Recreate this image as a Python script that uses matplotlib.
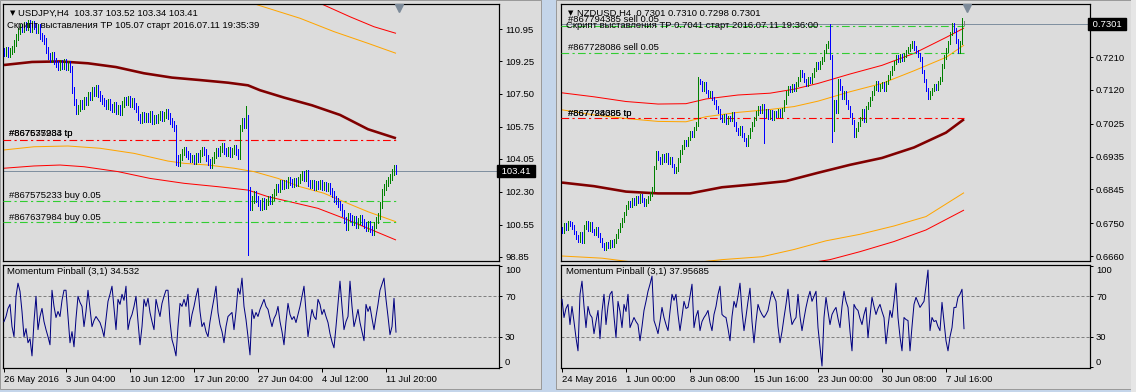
import numpy as np
import matplotlib
matplotlib.use("Agg")
import matplotlib.pyplot as plt
from matplotlib.patches import Rectangle

W, H = 1136, 392
DPI = 100
PX = 72.0 / DPI

plt.rcParams['font.family'] = ['Liberation Sans', 'DejaVu Sans']
FS = 6.8

# ---------------- USDJPY H4 ----------------
usd_first_open = 109.78
usd_close = [
    109.70, 109.82, 109.65, 109.78, 109.90, 110.20, 110.55, 110.85, 111.05, 110.95,
    111.15, 111.05, 111.25, 110.95, 111.20, 111.10, 110.90, 111.05, 110.60, 110.45,
    110.30, 109.85, 109.50, 109.35, 109.55, 109.25, 109.10, 108.95, 109.15, 109.00,
    109.20, 108.95, 109.10, 108.85, 107.70, 107.05, 106.60, 106.75, 107.00, 106.85,
    107.20, 107.10, 107.45, 107.35, 107.70, 107.55, 107.80, 107.50, 107.30, 107.15,
    107.00, 106.85, 107.05, 106.80, 106.70, 106.90, 106.60, 106.75, 106.55, 106.95,
    107.20, 107.05, 107.25, 106.95, 107.15, 106.85, 106.70, 106.30, 106.10, 106.40,
    106.15, 106.35, 106.20, 106.45, 106.05, 106.25, 106.10, 106.30, 106.45, 106.25,
    106.40, 106.55, 106.35, 106.05, 105.90, 105.70, 104.10, 103.85, 104.15, 104.40,
    104.55, 104.30, 104.20, 104.05, 104.10, 103.95, 104.20, 104.05, 104.35, 104.55,
    104.40, 104.10, 103.90, 103.75, 104.00, 104.25, 104.45, 104.35, 104.60, 104.75,
    104.50, 104.35, 104.55, 104.30, 104.45, 104.65, 104.40, 104.20, 105.70, 106.05,
    105.85, 106.25, 102.40, 101.50, 101.90, 102.20, 101.95, 101.70, 101.50, 101.80,
    101.55, 101.75, 101.95, 101.80, 102.05, 102.30, 102.55, 102.45, 102.75, 102.60,
    102.80, 102.65, 102.95, 102.85, 102.70, 102.90, 102.80, 102.95, 103.10, 103.25,
    103.05, 103.30, 102.80, 102.65, 102.75, 102.55, 102.70, 102.60, 102.75, 102.55,
    102.65, 102.50, 102.60, 102.35, 102.20, 101.95, 101.80, 101.65, 101.50, 101.20,
    100.80, 100.45, 101.05, 100.90, 100.70, 100.85, 100.55, 100.75, 100.90, 100.70,
    100.55, 100.40, 100.60, 100.35, 100.20, 100.55, 100.80, 101.05, 101.60, 102.30,
    102.55, 102.80, 102.95, 103.10, 103.35, 103.55, 103.41,
]
usd_hi_idx = [121, 86]
usd_hi_val = [106.86, 105.85]
usd_lo_idx = [122, 86]
usd_lo_val = [98.95, 103.73]

usd_ma_idx = [0, 14, 28, 42, 56, 70, 84, 98, 112, 122, 128, 140, 154, 168, 182, 196]
usd_ma_val = [109.04, 109.20, 109.23, 109.13, 108.93, 108.60, 108.37, 108.24, 108.10,
              107.96, 107.70, 107.31, 106.90, 106.39, 105.63, 105.15]
usd_lo_or_idx = [0, 15, 32, 48, 65, 82, 90, 102, 115, 125, 137, 148, 160, 170, 182, 196]
usd_lo_or_val = [104.53, 104.70, 104.74, 104.62, 104.35, 103.94, 103.82, 103.73, 103.56,
                 103.38, 103.02, 102.58, 102.23, 101.78, 101.25, 100.72]
usd_lo_rd_idx = [0, 15, 28, 40, 57, 73, 90, 107, 122, 132, 143, 157, 170, 182, 196]
usd_lo_rd_val = [103.56, 103.68, 103.73, 103.64, 103.38, 103.02, 102.76, 102.58, 102.40,
                 102.05, 101.78, 101.43, 100.90, 100.37, 99.75]
usd_up_or_idx = [110, 127, 148, 165, 182, 196]
usd_up_or_val = [112.90, 112.22, 111.52, 110.81, 110.19, 109.66]
usd_up_rd_idx = [145, 160, 173, 185, 196]
usd_up_rd_val = [112.90, 112.22, 111.60, 111.07, 110.72]

usd_tp = 105.07
usd_buy1 = 101.80
usd_buy2 = 100.72
usd_bid = 103.41
usd_yticks = [110.95, 109.25, 107.50, 105.75, 104.05, 102.30, 100.55, 98.85]

usd_mom = [
    45, 50, 58, 62, 40, 30, 70, 83, 75, 55,
    30, 38, 24, 28, 11, 45, 70, 37, 50, 58,
    45, 37, 30, 22, 76, 60, 49, 55, 50, 66,
    76, 76, 50, 24, 35, 20, 48, 70, 64, 60,
    40, 55, 76, 58, 40, 46, 50, 47, 44, 38,
    30, 48, 65, 72, 80, 58, 37, 67, 62, 72,
    66, 80, 37, 47, 52, 60, 70, 45, 22, 40,
    67, 60, 68, 54, 45, 37, 67, 58, 50, 63,
    70, 76, 76, 45, 27, 20, 11, 40, 63, 60,
    67, 60, 72, 40, 52, 60, 70, 78, 55, 40,
    44, 35, 30, 45, 57, 68, 80, 54, 42, 35,
    24, 40, 50, 52, 54, 37, 55, 78, 72, 88,
    60, 47, 30, 12, 57, 48, 54, 50, 57, 62,
    67, 60, 57, 48, 40, 48, 52, 60, 45, 35,
    22, 45, 63, 52, 47, 50, 44, 52, 60, 70,
    80, 55, 30, 45, 57, 50, 47, 67, 62, 52,
    57, 50, 44, 33, 25, 19, 40, 63, 85, 60,
    37, 45, 50, 85, 60, 40, 48, 57, 44, 35,
    26, 62, 55, 60, 48, 37, 50, 62, 76, 82,
    88, 67, 50, 32, 40, 68, 34.532,
]
usd_time_idx = [0, 31, 63, 95, 127, 159, 191]
usd_time_lbl = ["26 May 2016", "3 Jun 04:00", "10 Jun 12:00", "17 Jun 20:00",
                "27 Jun 04:00", "4 Jul 12:00", "11 Jul 20:00"]

# ---------------- NZDUSD H4 ----------------
nzd_first_open = 0.6735
nzd_close = [
    0.6728, 0.6745, 0.6738, 0.6752, 0.6748, 0.6740, 0.6725, 0.6712, 0.6705, 0.6720,
    0.6702, 0.6740, 0.6752, 0.6735, 0.6748, 0.6730, 0.6722, 0.6735, 0.6718, 0.6705,
    0.6690, 0.6682, 0.6695, 0.6688, 0.6698, 0.6690, 0.6702, 0.6715, 0.6730, 0.6745,
    0.6760, 0.6778, 0.6795, 0.6808, 0.6800, 0.6815, 0.6805, 0.6822, 0.6812, 0.6825,
    0.6815, 0.6802, 0.6812, 0.6820, 0.6832, 0.6845, 0.6905, 0.6945, 0.6930, 0.6920,
    0.6938, 0.6925, 0.6940, 0.6918, 0.6930, 0.6910, 0.6895, 0.6900, 0.6925, 0.6948,
    0.6962, 0.6975, 0.6968, 0.6985, 0.7000, 0.6995, 0.7012, 0.7025, 0.7145, 0.7140,
    0.7120, 0.7135, 0.7115, 0.7105, 0.7112, 0.7095, 0.7085, 0.7070, 0.7060, 0.7045,
    0.7035, 0.7048, 0.7030, 0.7042, 0.7038, 0.7052, 0.7025, 0.7010, 0.7000, 0.7015,
    0.6995, 0.6982, 0.6970, 0.6990, 0.7010, 0.7025, 0.7040, 0.7055, 0.7070, 0.7060,
    0.7075, 0.7050, 0.7060, 0.7045, 0.7058, 0.7040, 0.7055, 0.7048, 0.7060, 0.7050,
    0.7065, 0.7085, 0.7110, 0.7125, 0.7118, 0.7130, 0.7122, 0.7135, 0.7150, 0.7170,
    0.7160, 0.7145, 0.7135, 0.7150, 0.7142, 0.7160, 0.7175, 0.7190, 0.7182, 0.7195,
    0.7205, 0.7225, 0.7240, 0.7250, 0.7210, 0.7010, 0.7085, 0.7060, 0.7145, 0.7125,
    0.7100, 0.7110, 0.7085, 0.7070, 0.7050, 0.7030, 0.6995, 0.7010, 0.7025, 0.7040,
    0.7060, 0.7035, 0.7070, 0.7080, 0.7095, 0.7110, 0.7125, 0.7140, 0.7120, 0.7130,
    0.7135, 0.7120, 0.7140, 0.7155, 0.7165, 0.7180, 0.7195, 0.7210, 0.7200, 0.7212,
    0.7205, 0.7215, 0.7225, 0.7232, 0.7240, 0.7248, 0.7235, 0.7225, 0.7215, 0.7205,
    0.7170, 0.7145, 0.7120, 0.7100, 0.7110, 0.7120, 0.7130, 0.7125, 0.7140, 0.7150,
    0.7185, 0.7210, 0.7230, 0.7250, 0.7275, 0.7300, 0.7285, 0.7255, 0.7225, 0.7250,
    0.7301, 0.7301,
]
nzd_hi_idx = [134, 68, 200, 201]
nzd_hi_val = [0.7301, 0.7155, 0.7318, 0.7310]
nzd_lo_idx = [135, 101, 201]
nzd_lo_val = [0.6976, 0.6972, 0.7298]

nzd_ma_idx = [0, 16, 32, 48, 64, 80, 96, 112, 128, 144, 160, 176, 192, 201]
nzd_ma_val = [0.6863, 0.6853, 0.6838, 0.6833, 0.6833, 0.6850, 0.6858, 0.6867, 0.6890,
              0.6912, 0.6931, 0.6960, 0.7001, 0.7038]
nzd_up_rd_idx = [0, 16, 32, 48, 62, 72, 88, 104, 116, 128, 144, 160, 176, 192, 201]
nzd_up_rd_val = [0.7111, 0.7100, 0.7087, 0.7080, 0.7081, 0.7094, 0.7105, 0.7110, 0.7121,
                 0.7137, 0.7163, 0.7187, 0.7220, 0.7264, 0.7290]
nzd_up_or_idx = [0, 16, 32, 48, 62, 72, 88, 104, 116, 128, 144, 160, 176, 192, 201]
nzd_up_or_val = [0.7064, 0.7050, 0.7040, 0.7032, 0.7031, 0.7045, 0.7057, 0.7065, 0.7073,
                 0.7088, 0.7114, 0.7137, 0.7172, 0.7209, 0.7243]
nzd_lo_or_idx = [0, 20, 40, 60, 80, 100, 116, 132, 149, 166, 182, 201]
nzd_lo_or_val = [0.6660, 0.6654, 0.6640, 0.6638, 0.6650, 0.6658, 0.6678, 0.6702, 0.6720,
                 0.6743, 0.6769, 0.6835]
nzd_lo_rd_idx = [100, 134, 149, 166, 182, 201]
nzd_lo_rd_val = [0.6620, 0.6650, 0.6672, 0.6700, 0.6732, 0.6787]

nzd_tp = 0.7041
nzd_sell1 = 0.7297
nzd_sell2 = 0.7222
nzd_bid = 0.7301
nzd_yticks = [0.7210, 0.7120, 0.7025, 0.6935, 0.6845, 0.6750, 0.6660]

nzd_mom = [
    67, 49, 58, 62, 42, 60, 45, 29, 16, 72,
    85, 60, 39, 60, 52, 49, 33, 45, 56, 28,
    55, 72, 42, 60, 72, 75, 50, 29, 65, 55,
    39, 62, 55, 72, 39, 44, 49, 45, 42, 26,
    40, 56, 65, 75, 82, 90, 46, 40, 33, 45,
    59, 49, 42, 36, 55, 72, 66, 72, 52, 36,
    50, 65, 58, 59, 70, 82, 39, 50, 56, 36,
    45, 49, 52, 56, 44, 36, 52, 60, 72, 80,
    52, 50, 49, 38, 26, 50, 65, 59, 70, 83,
    55, 36, 50, 65, 78, 45, 24, 45, 62, 56,
    52, 49, 52, 56, 66, 75, 70, 65, 40, 24,
    35, 49, 62, 77, 55, 42, 46, 49, 72, 50,
    36, 48, 59, 68, 75, 65, 70, 75, 39, 20,
    1, 49, 69, 55, 42, 52, 56, 59, 48, 39,
    60, 75, 65, 59, 35, 16, 62, 58, 56, 48,
    42, 52, 59, 29, 50, 69, 60, 52, 58, 62,
    55, 49, 23, 40, 56, 49, 65, 83, 49, 30,
    16, 49, 47, 46, 16, 40, 62, 69, 64, 59,
    62, 65, 80, 96, 36, 49, 45, 46, 40, 36,
    64, 45, 26, 16, 30, 39, 59, 59, 69, 72,
    77, 37.95685,
]
nzd_time_idx = [0, 32, 64, 96, 128, 160, 192]
nzd_time_lbl = ["24 May 2016", "1 Jun 00:00", "8 Jun 08:00", "15 Jun 16:00",
                "23 Jun 00:00", "30 Jun 08:00", "7 Jul 16:00"]

# ---------------- colours ----------------
BG = '#DCDCDC'
UP = '#008000'
DN = '#0000FF'
MAROON = '#800000'
ORANGE = '#FFA500'
RED = '#FF0000'
LIME = '#32CD32'
BIDLINE = '#8090A0'
NAVY = '#000080'

fig = plt.figure(figsize=(W / DPI, H / DPI), dpi=DPI)
fig.patch.set_facecolor('#C4D5EA')


def frect(x0, y0, x1, y1, fc, ec='none', lw=0):
    r = Rectangle((x0 / W, 1 - y1 / H), (x1 - x0) / W, (y1 - y0) / H,
                  transform=fig.transFigure, facecolor=fc, edgecolor=ec,
                  linewidth=lw, zorder=-10)
    fig.add_artist(r)


frect(0, 0, 541, 389, BG, '#9A9A9A', 1 * PX)
frect(556, 0, 1131, 389, BG, '#9A9A9A', 1 * PX)
frect(1131, 0, 1136, 392, '#E6E6E6')


def add_ax(x0, y0, x1, y1):
    ax = fig.add_axes([x0 / W, 1 - y1 / H, (x1 - x0) / W, (y1 - y0) / H])
    ax.set_zorder(1)
    ax.set_facecolor(BG)
    for s in ax.spines.values():
        s.set_color('black')
        s.set_linewidth(1.2 * PX)
    return ax


def ftext(x, y, s, **kw):
    kw.setdefault('fontsize', FS)
    kw.setdefault('color', 'black')
    t = fig.text(x / W, 1 - y / H, s, ha=kw.pop('ha', 'left'), va=kw.pop('va', 'center'), **kw)
    t.set_zorder(20)


def draw_chart(x0, x1, closes, first_open, wick, hi_idx, hi_val, lo_idx, lo_val,
               lines, levels, bid, bid_fmt, yticks, ylim, mom, time_idx, time_lbl):
    n = len(closes)
    nbar_view = (x1 - x0) / 2.0
    xlim = (-0.5, -0.5 + nbar_view)
    ax = add_ax(x0, 4, x1, 261)
    ax.set_xlim(*xlim)
    ax.set_ylim(*ylim)
    c = np.array(closes, dtype=float)
    o = np.concatenate([[first_open], c[:-1]])
    hi = np.maximum(o, c) + wick
    lo = np.minimum(o, c) - wick
    for i, v in zip(hi_idx, hi_val):
        hi[i] = v
    for i, v in zip(lo_idx, lo_val):
        lo[i] = v
    cols = [UP if cc > oo else (DN if cc < oo else '#808080') for oo, cc in zip(o, c)]
    x = np.arange(n)
    ax.axhline(bid, color=BIDLINE, lw=1 * PX, zorder=1)
    for idx, val, col, lw in lines:
        ax.plot(idx, val, color=col, lw=lw * PX, solid_capstyle='butt', zorder=2)
    for val, col in levels:
        ax.plot([xlim[0], n - 1], [val, val], color=col, lw=1.1 * PX,
                ls=(0, (7, 3, 2, 3)), zorder=3)
    ax.vlines(x, lo, hi, colors=cols, linewidth=1.0 * PX, antialiased=False, zorder=4)
    ax.set_xticks([])
    ax.yaxis.tick_right()
    ax.set_yticks(yticks)
    ax.set_yticklabels([bid_fmt.format(t) for t in yticks])
    ax.tick_params(axis='y', direction='out', length=3 * PX, width=1 * PX, pad=2.2,
                   labelsize=FS, colors='black')
    ax.text(1.0, bid, ' ' + bid_fmt.format(bid) + ' ', transform=ax.get_yaxis_transform(),
            ha='left', va='center', fontsize=FS, color='white', zorder=10, clip_on=False,
            bbox=dict(boxstyle='square,pad=0.18', fc='black', ec='black'))
    ax.plot([n + 0.5], [0.985], transform=ax.get_xaxis_transform(), marker='v', ms=5.5,
            color='#7C8A99', mec='#7C8A99', clip_on=False, zorder=6)

    ai = add_ax(x0, 265, x1, 368)
    ai.set_xlim(*xlim)
    ai.set_ylim(-1, 101)
    for lvl in (70, 30):
        ai.axhline(lvl, color='#808080', lw=1 * PX, ls=(0, (3, 2)), zorder=1)
    ai.plot(np.arange(len(mom)), mom, color=NAVY, lw=1.0 * PX, zorder=3)
    ai.yaxis.tick_right()
    ai.set_yticks([0, 30, 70, 100])
    ai.set_yticklabels(['0', '30', '70', '100'])
    ai.tick_params(axis='y', direction='out', length=3 * PX, width=1 * PX, pad=2.2,
                   labelsize=FS, colors='black')
    for lbl in ai.get_yticklabels():
        if lbl.get_text() == '0':
            lbl.set_va('bottom')
        elif lbl.get_text() == '100':
            lbl.set_va('top')
    ai.set_xticks(time_idx)
    ai.set_xticklabels(time_lbl, ha='left')
    ai.tick_params(axis='x', direction='out', length=4 * PX, width=1 * PX, pad=2.5,
                   labelsize=FS, colors='black')
    return ax, ai


usd_lines = [
    (usd_ma_idx, usd_ma_val, MAROON, 2.6),
    (usd_lo_or_idx, usd_lo_or_val, ORANGE, 1.0),
    (usd_lo_rd_idx, usd_lo_rd_val, RED, 1.0),
    (usd_up_or_idx, usd_up_or_val, ORANGE, 1.0),
    (usd_up_rd_idx, usd_up_rd_val, RED, 1.0),
]
usd_levels = [(usd_tp, RED), (usd_buy1, LIME), (usd_buy2, LIME)]
draw_chart(3, 499, usd_close, usd_first_open, 0.16, usd_hi_idx, usd_hi_val,
           usd_lo_idx, usd_lo_val, usd_lines, usd_levels, usd_bid, '{:.2f}',
           usd_yticks, (98.636, 112.277), usd_mom, usd_time_idx, usd_time_lbl)

nzd_lines = [
    (nzd_ma_idx, nzd_ma_val, MAROON, 2.6),
    (nzd_up_or_idx, nzd_up_or_val, ORANGE, 1.0),
    (nzd_up_rd_idx, nzd_up_rd_val, RED, 1.0),
    (nzd_lo_or_idx, nzd_lo_or_val, ORANGE, 1.0),
    (nzd_lo_rd_idx, nzd_lo_rd_val, RED, 1.0),
]
nzd_levels = [(nzd_tp, RED), (nzd_sell1, LIME), (nzd_sell2, LIME)]
draw_chart(561, 1090, nzd_close, nzd_first_open, 0.0005, nzd_hi_idx, nzd_hi_val,
           nzd_lo_idx, nzd_lo_val, nzd_lines, nzd_levels, nzd_bid, '{:.4f}',
           nzd_yticks, (0.66462, 0.73565), nzd_mom, nzd_time_idx, nzd_time_lbl)

ftext(10, 13, '▼', fontsize=5, family=['DejaVu Sans'])
ftext(18, 13, 'USDJPY,H4  103.37 103.52 103.34 103.41')
ftext(7, 26, 'Скрипт выставления ТР 105.07 старт 2016.07.11 19:35:39')
ftext(9, 134, '#867575233 tp')
ftext(9, 134, '#867637984 tp')
ftext(9, 195, '#867575233 buy 0.05')
ftext(9, 217, '#867637984 buy 0.05')
ftext(7, 272, 'Momentum Pinball (3,1) 34.532')

ftext(568, 13, '▼', fontsize=5, family=['DejaVu Sans'])
ftext(577, 13, 'NZDUSD,H4  0.7301 0.7310 0.7298 0.7301')
ftext(568, 19, '#867794385 sell 0.05')
ftext(566, 26, 'Скрипт выставления ТР 0.7041 старт 2016.07.11 19:36:00')
ftext(568, 48, '#867728086 sell 0.05')
ftext(568, 113, '#867728086 tp')
ftext(568, 113, '#867794385 tp')
ftext(566, 272, 'Momentum Pinball (3,1) 37.95685')

fig.savefig('out.png', dpi=DPI, facecolor=fig.get_facecolor())
